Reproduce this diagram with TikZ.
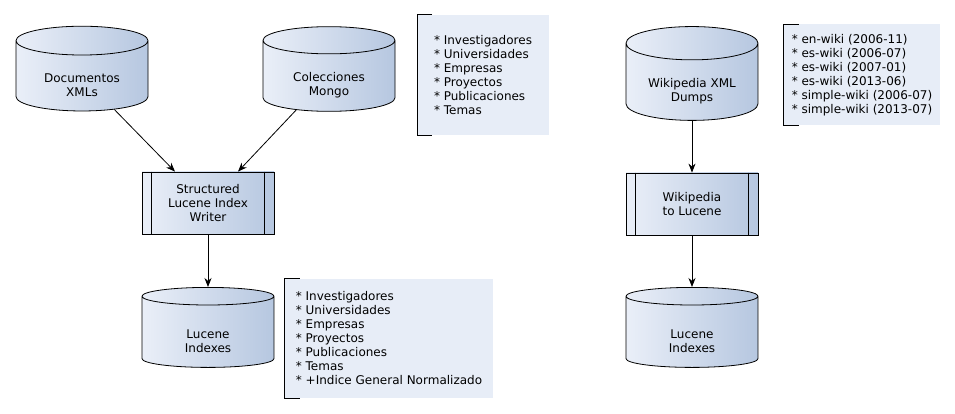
\documentclass[tikz,border=0pt]{standalone}
\usepackage{fontspec}
\setmainfont{DejaVu Sans}
\usetikzlibrary{arrows.meta,shapes.geometric,positioning}
\definecolor{mylight}{RGB}{234,239,248}
\definecolor{mydark}{RGB}{182,199,224}
\definecolor{mynote}{RGB}{231,237,247}

\begin{document}
\begin{tikzpicture}[
  x=1pt, y=-1pt,
  font=\fontsize{12}{14}\selectfont,
  line width=0.8pt,
  >={Stealth[length=9pt,width=7pt]},
  mydb/.style={
    draw,
    cylinder,
    shape border rotate=90,
    aspect=0.38,
    minimum width=132pt,
    minimum height=80pt,
    left color=mylight,
    right color=mydark,
    align=center,
    inner sep=0pt
    },
  myproc/.style={
    draw,
    rectangle,
    minimum width=132pt,
    minimum height=62pt,
    left color=mylight,
    right color=mydark,
    align=center
    },
  mynote/.style={
    fill=mynote,
    rectangle,
    align=left,
    inner sep=0pt
    }
]
\useasboundingbox[fill=white] (0,0) rectangle (955,414);

% left flow
\node [mydb] (docs) at (82,76) {\\[13pt]Documentos\\XMLs};
\node [mydb] (mongo) at (329,76) {\\[13pt]Colecciones\\Mongo};
\node [myproc] (writer) at (208,203) {Structured\\Lucene Index\\Writer};
\node [mydb] (lucA) at (208,332) {\\[13pt]Lucene\\Indexes};

\node [mynote, minimum width=131pt, minimum height=120pt] (noteA) at (483,75)
  {* Investigadores\\* Universidades\\* Empresas\\* Proyectos\\* Publicaciones\\* Temas};
\node [mynote, minimum width=208pt, minimum height=119pt] (noteB) at (389,338)
  {* Investigadores\\* Universidades\\* Empresas\\* Proyectos\\* Publicaciones\\* Temas\\* +Indice General Normalizado};

% right flow
\node [mydb] (wiki) at (692,82) {\\[13pt]Wikipedia XML\\Dumps};
\node [myproc] (wtol) at (692,204) {Wikipedia\\to Lucene};
\node [mydb] (lucB) at (692,332) {\\[13pt]Lucene\\Indexes};

\node [mynote, minimum width=156pt, minimum height=101pt] (noteC) at (862,75)
  {* en-wiki (2006-11)\\* es-wiki (2006-07)\\* es-wiki (2007-01)\\* es-wiki (2013-06)\\* simple-wiki (2006-07)\\* simple-wiki (2013-07)};

% inner bars of the process boxes
\foreach \n in {writer,wtol} {
  \draw ([xshift=10pt]\n.north west) -- ([xshift=10pt]\n.south west);
  \draw ([xshift=-10pt]\n.north east) -- ([xshift=-10pt]\n.south east);
}

% brackets of the notes
\foreach \n in {noteA,noteB,noteC} {
  \draw ([xshift=15pt]\n.north west) -- (\n.north west) -- (\n.south west) -- ([xshift=15pt]\n.south west);
}

% connectors
\draw [->] (docs.-46) -- ([xshift=-33pt]writer.north);
\draw [->] (mongo.-134) -- ([xshift=30pt]writer.north);
\draw [->] (writer) -- (lucA);
\draw [->] (wiki) -- (wtol);
\draw [->] (wtol) -- (lucB);

\end{tikzpicture}
\end{document}
